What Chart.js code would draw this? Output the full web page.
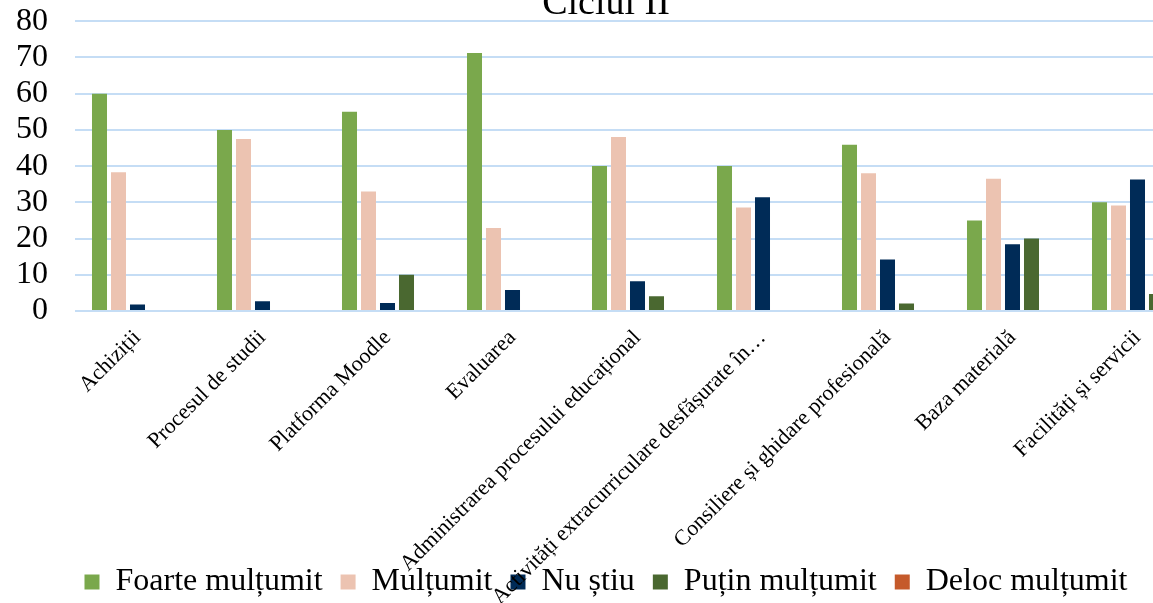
<!DOCTYPE html>
<html>
<head>
<meta charset="utf-8">
<script src="https://cdn.jsdelivr.net/npm/chart.js@4.4.1/dist/chart.umd.min.js"></script>
<style>
  html, body { margin: 0; padding: 0; background: #fff; }
  #wrap { position: relative; width: 1153px; height: 603px; overflow: hidden; }
  #chart { position: absolute; left: 0; top: -25px; }
</style>
</head>
<body>
<div id="wrap">
  <canvas id="chart" width="1212" height="633"></canvas>
</div>
<script>
// categories
const categories = [
  'Achiziții',
  'Procesul de studii',
  'Platforma Moodle',
  'Evaluarea',
  'Administrarea procesului educațional',
  'Activități extracurriculare desfășurate în…',
  'Consiliere și ghidare profesională',
  'Baza materială',
  'Facilități și servicii'
];

// series values
const foarteMultumit = [60, 50, 55, 71.2, 40, 40, 45.9, 25, 30];
const multumit = [38.3, 47.5, 33, 22.9, 48, 28.6, 38, 36.5, 29.1];
const nuStiu = [1.8, 2.7, 2.2, 5.8, 8.2, 31.4, 14.2, 18.4, 36.3];
const putinMultumit = [0, 0, 10, 0, 4.1, 0, 2.1, 20, 4.7];
const delocMultumit = [0, 0, 0, 0, 0, 0, 0, 0, 0];

const seriesNames = ['Foarte mulțumit', 'Mulțumit', 'Nu știu', 'Puțin mulțumit', 'Deloc mulțumit'];
const seriesColors = ['#7aa84c', '#ecc3b1', '#002b57', '#4a6830', '#c55a2b'];

const yTicks = { min: 0, max: 80, step: 10 };

const serif = '"Liberation Serif", "Times New Roman", serif';

const allSeries = [foarteMultumit, multumit, nuStiu, putinMultumit, delocMultumit];

// rotated category labels run over the legend like in the original,
// and title + legend sit centred on the whole picture, not the plot
const tweaks = {
  id: 'tweaks',
  afterLayout(chart) {
    [chart.titleBlock, chart.legend].forEach(b => { b.left += 6; b.right += 6; });
  },
  beforeDraw(chart) {
    chart.scales.x._computeLabelArea = () => undefined;
  }
};

new Chart(document.getElementById('chart'), {
  type: 'bar',
  data: {
    labels: categories,
    datasets: allSeries.map((vals, i) => ({
      label: seriesNames[i],
      data: vals,
      backgroundColor: seriesColors[i],
      borderWidth: 0,
      categoryPercentage: 0.76,
      barPercentage: 0.79
    }))
  },
  plugins: [tweaks],
  options: {
    responsive: false,
    animation: false,
    devicePixelRatio: 1,
    layout: { padding: { left: 0, right: 12, top: 0, bottom: 0 } },
    plugins: {
      title: {
        display: true,
        text: 'Ciclul II',
        color: '#000',
        font: { family: serif, size: 38, weight: 'normal', lineHeight: 0.9 },
        padding: { top: 5, bottom: 0 }
      },
      legend: {
        position: 'bottom',
        labels: {
          color: '#000',
          boxWidth: 15,
          boxHeight: 15,
          padding: 18,
          font: { family: serif, size: 32 }
        }
      },
      tooltip: { enabled: false }
    },
    scales: {
      x: {
        grid: { display: false, drawTicks: false },
        border: { display: false },
        ticks: {
          color: '#000',
          autoSkip: false,
          minRotation: 45,
          maxRotation: 45,
          padding: 14,
          font: { family: serif, size: 22 }
        },
        afterFit: (scale) => { scale.height = 237; }
      },
      y: {
        min: yTicks.min,
        max: yTicks.max,
        grid: { color: '#c5ddf5', lineWidth: 2, drawTicks: false },
        border: { display: false },
        ticks: {
          stepSize: yTicks.step,
          autoSkip: false,
          color: '#000',
          padding: 27,
          font: { family: serif, size: 32 }
        },
        afterFit: (scale) => { scale.width = 75; }
      }
    }
  }
});
</script>
</body>
</html>
